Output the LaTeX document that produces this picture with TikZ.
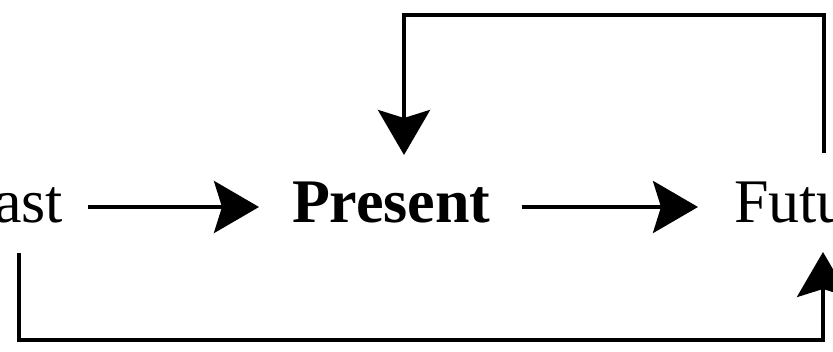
\documentclass[tikz,border=0pt]{standalone}
\usepackage{fontspec}
\setmainfont{Liberation Serif}
\usetikzlibrary{arrows.meta,calc}
\begin{document}
\begin{tikzpicture}[x=1pt,y=1pt,
  lbl/.style={inner sep=0pt,outer sep=0pt,font=\fontsize{62}{70}\selectfont},
  arr/.style={line width=4pt,line join=miter,-{Stealth[length=45pt,width=52pt,inset=8pt]}}]
\useasboundingbox (0,0) rectangle (833,351);
\clip (0,0) rectangle (833,351);
\node[lbl,anchor=base east] (past) at (63,128) {Past};
\node[lbl,font=\fontsize{62}{70}\selectfont\bfseries,anchor=base west] (present) at (292,128) {Present};
\node[lbl,anchor=base west] (future) at (734,128) {Future};
\draw[arr] ([shift={(25,16)}]past.base east) -- ([shift={(-33,16)}]present.base west);
\draw[arr] ([shift={(31,16)}]present.base east) -- ([shift={(-36,16)}]future.base west);
\draw[arr] ([shift={(90,70)}]future.base west) -- ++(0,138) -| ([shift={(112,68)}]present.base west);
\draw[arr] ([shift={(-44,-30)}]past.base east) -- ++(0,-87) -| ([shift={(89,-29)}]future.base west);
\end{tikzpicture}
\end{document}
